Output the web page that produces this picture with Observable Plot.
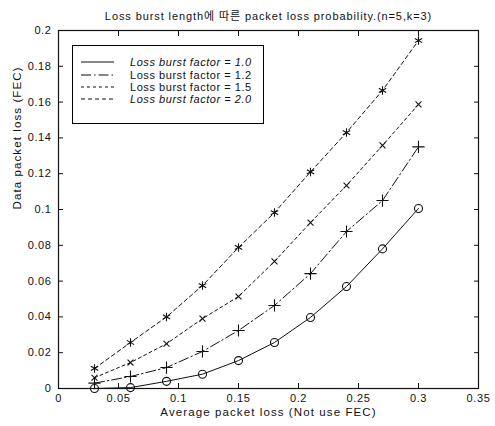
<!DOCTYPE html>
<html><head><meta charset="utf-8">
<script src="https://cdn.jsdelivr.net/npm/d3@7"></script>
<script src="https://cdn.jsdelivr.net/npm/@observablehq/plot@0.6"></script>
<style>
body{margin:0;background:#fff;}
#wrap{position:relative;width:495px;height:426px;font-family:"Liberation Sans",Arial,"Noto Sans CJK KR",sans-serif;}
#legend{position:absolute;left:72px;top:45px;width:192px;height:79px;border:1.3px solid #000;background:#fff;box-sizing:border-box;}
#legend svg{display:block;}
svg text{letter-spacing:0.6px;}
</style></head><body><div id="wrap"></div>
<script>
const titleText = "Loss burst length에 따른 packet loss probability.(n=5,k=3)";
const xLabel = "Average packet loss (Not use FEC)";
const yLabel = "Data packet loss (FEC)";
const avgLoss = [0.03, 0.06, 0.09, 0.12, 0.15, 0.18, 0.21, 0.24, 0.27, 0.30];
const factors = ["1.0", "1.2", "1.5", "2.0"];
const loss10 = [0.000, 0.0005, 0.004, 0.008, 0.0156, 0.0257, 0.0397, 0.057, 0.078, 0.1006];
const loss12 = [0.003, 0.0067, 0.0117, 0.0207, 0.0324, 0.0464, 0.0642, 0.0877, 0.105, 0.135];
const loss15 = [0.006, 0.0145, 0.025, 0.039, 0.0514, 0.071, 0.0927, 0.1134, 0.1358, 0.1587];
const loss20 = [0.0112, 0.0257, 0.040, 0.0575, 0.0788, 0.0983, 0.121, 0.143, 0.1665, 0.1944];
const xTicks = [0, 0.05, 0.1, 0.15, 0.2, 0.25, 0.3, 0.35];
const yTicks = [0, 0.02, 0.04, 0.06, 0.08, 0.1, 0.12, 0.14, 0.16, 0.18, 0.2];
const legendLabels = factors.map(f => "Loss burst factor = " + f);

const seriesValues = [loss10, loss12, loss15, loss20];
const styles = [
  {dash: null, symbol: "circle", r: 4, italic: true},
  {dash: "10,3,1.5,3", symbol: "plus", r: 4, italic: false},
  {dash: "3,3", symbol: "times", r: 2.8, italic: false},
  {dash: "4,3", symbol: "asterisk", r: 4, italic: true}
];
const series = factors.map((f, i) => avgLoss.map((x, j) => ({x, y: seriesValues[i][j], factor: f})));

const font = '"Liberation Sans", Arial, "Noto Sans CJK KR", sans-serif';
const marks = [];
series.forEach((data, i) => {
  marks.push(Plot.line(data, {x: "x", y: "y", stroke: "#111", strokeWidth: 1, strokeDasharray: styles[i].dash}));
  marks.push(Plot.dot(data, {x: "x", y: "y", symbol: () => styles[i].symbol, r: styles[i].r, stroke: "#111", strokeWidth: 1.1, fill: "none"}));
});

const plot = Plot.plot({
  width: 495, height: 426,
  marginLeft: 58, marginRight: 17, marginTop: 30, marginBottom: 38,
  style: {fontFamily: font, fontSize: "11px", color: "#111", background: "#fff"},
  x: {domain: [0, 0.35], ticks: xTicks},
  y: {domain: [0, 0.2], ticks: yTicks},
  symbol: {type: "identity"},
  marks: [
    Plot.frame({stroke: "#111", strokeWidth: 1.2}),
    Plot.axisX(xTicks, {anchor: "bottom", tickSize: -5, tickPadding: 11, label: null, tickFormat: d => String(d)}),
    Plot.axisX(xTicks, {anchor: "top", tickSize: -5, label: null, tickFormat: () => ""}),
    Plot.axisY(yTicks, {anchor: "left", tickSize: -5, tickPadding: 12, label: null, tickFormat: d => String(d)}),
    Plot.axisY(yTicks, {anchor: "right", tickSize: -5, label: null, tickFormat: () => ""}),
    ...marks,
    Plot.text([titleText], {frameAnchor: "top", dy: -18, fontSize: 11, fill: "#111"}),
    Plot.text([xLabel], {frameAnchor: "bottom", dy: 27, fontSize: 11.5, fill: "#111"}),
    Plot.text([yLabel], {frameAnchor: "left", rotate: -90, dx: -41, fontSize: 11.5, fill: "#111"})
  ]
});
const wrap = document.getElementById("wrap");
wrap.appendChild(plot);
plot.querySelectorAll("text").forEach(t => {
  if (t.textContent === titleText) t.style.letterSpacing = "0.9px";
  if (t.textContent === xLabel || t.textContent === yLabel) t.style.letterSpacing = "1.1px";
});

// legend overlay
const leg = document.createElement("div");
leg.id = "legend";
wrap.appendChild(leg);
const lsvg = d3.select(leg).append("svg").attr("width", 190).attr("height", 77)
  .style("font-family", font).style("font-size", "11px");
const rowY = [16, 29, 41, 53];
factors.forEach((f, i) => {
  const g = lsvg.append("g").attr("transform", `translate(0,${rowY[i]})`);
  g.append("line").attr("x1", 8).attr("x2", 41).attr("y1", 0).attr("y2", 0)
    .attr("stroke", "#111").attr("stroke-width", 1.2).attr("stroke-dasharray", styles[i].dash);
  g.append("text").attr("x", 57).attr("y", 0).attr("dy", "0.35em").attr("fill", "#111")
    .style("font-style", styles[i].italic ? "italic" : "normal").style("letter-spacing", "0.55px")
    .text(legendLabels[i]);
});
</script>
</body></html>
